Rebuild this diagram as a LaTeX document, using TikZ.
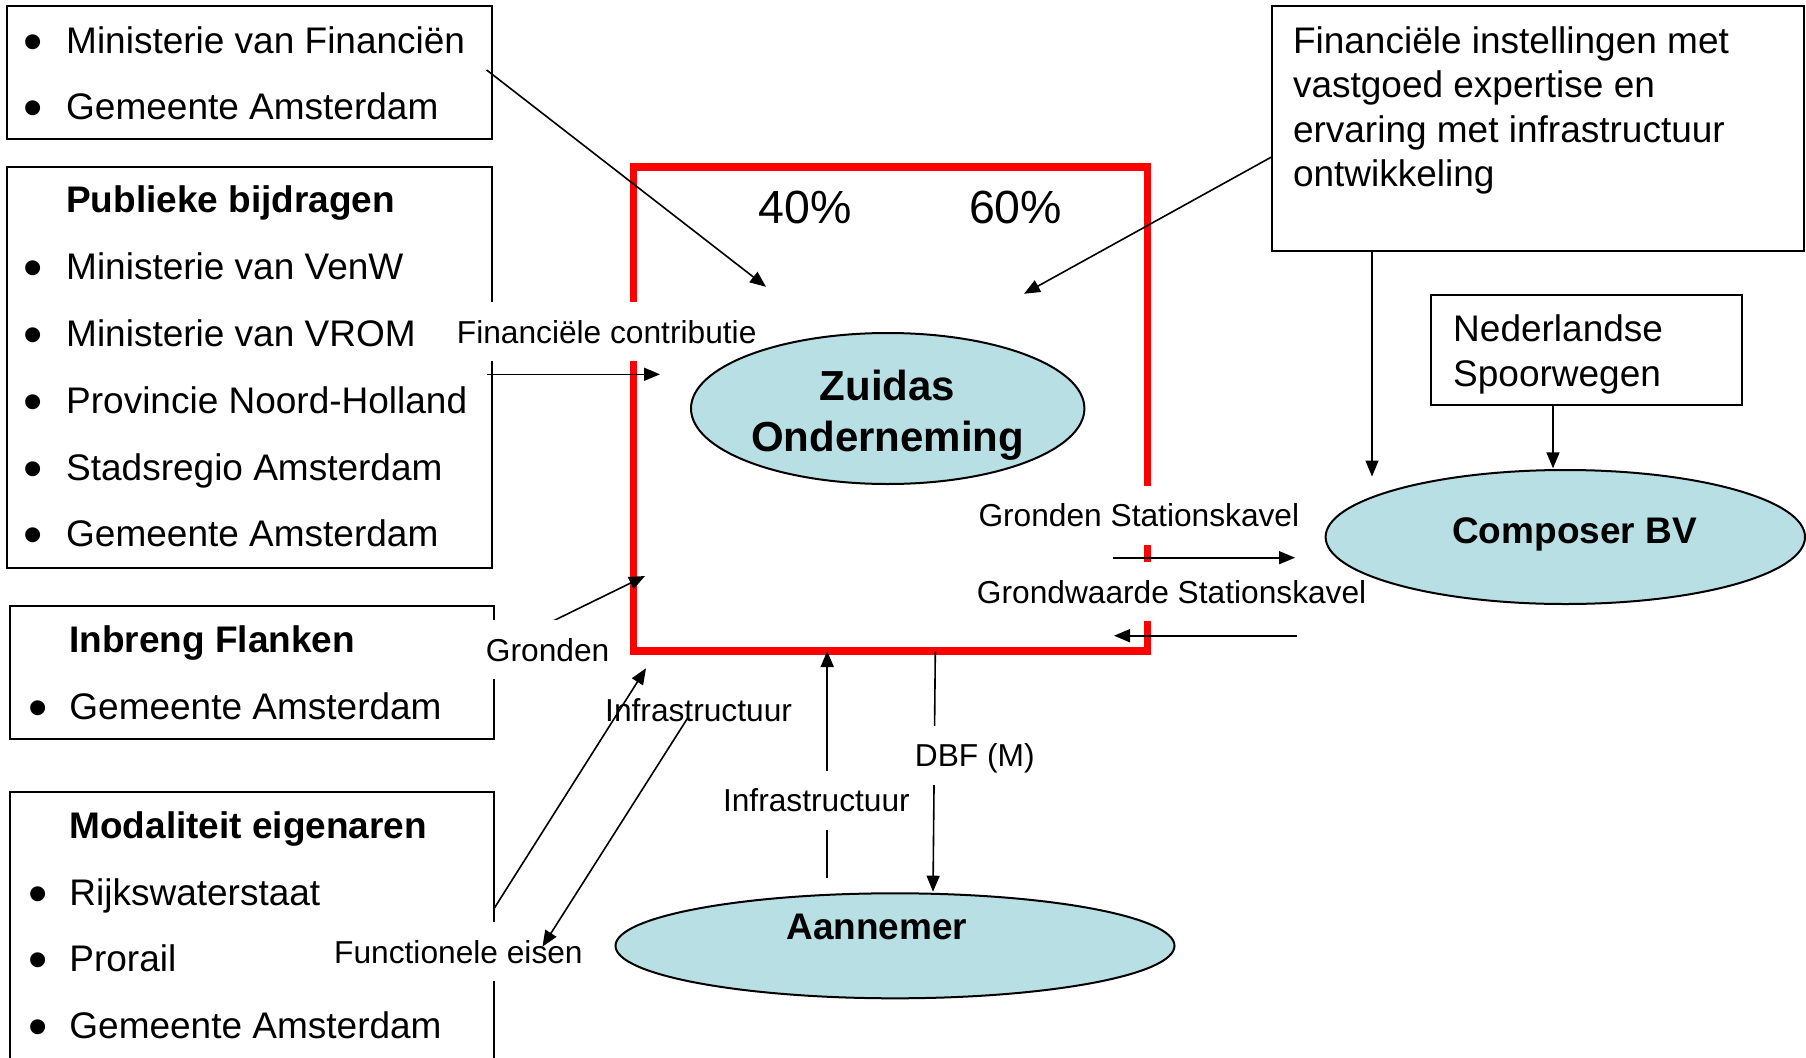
\documentclass[tikz,border=0pt]{standalone}
\usepackage{fontspec}
\setmainfont{Liberation Sans}
\usetikzlibrary{arrows.meta,shapes.geometric}
\definecolor{ellfill}{RGB}{184,223,227}
\begin{document}
\begin{tikzpicture}[x=1pt,y=-1pt,
  box/.style={draw=black,line width=2pt,rectangle,anchor=north west,inner sep=0pt,outer sep=0pt},
  frame/.style={draw=red,line width=7.5pt,rectangle,anchor=north west,inner sep=0pt,outer sep=0pt},
  ell/.style={draw=black,line width=2pt,ellipse,fill=ellfill,inner sep=0pt},
  txt/.style={font=\fontsize{37}{44}\selectfont,inner sep=0pt,anchor=base west},
  txtb/.style={font=\fontsize{37}{44}\selectfont\bfseries,inner sep=0pt,anchor=base west},
  bul/.style={font=\fontsize{55}{60}\selectfont,inner sep=0pt,anchor=base},
  ellt/.style={font=\fontsize{37}{44}\selectfont\bfseries,inner sep=0pt,anchor=base},
  ellz/.style={font=\fontsize{42}{50}\selectfont\bfseries,inner sep=0pt,anchor=base},
  pct/.style={font=\fontsize{46.5}{52}\selectfont,inner sep=0pt,anchor=base west},
  lbl/.style={font=\fontsize{31.7}{38}\selectfont,fill=white,inner xsep=2pt,inner ysep=0pt,text height=41pt,text depth=18pt,anchor=base west},
  arr/.style={draw=black,line width=1.6pt,-{Triangle[length=16pt,width=13pt]}},
  ln/.style={draw=black,line width=1.6pt}
]
\useasboundingbox (0,0) rectangle (1806,1057);
\clip (0,0) rectangle (1806,1057);
\fill[white] (0,0) rectangle (1806,1057);

% boxes
\node[box,minimum width=484.8pt,minimum height=133.3pt] (b1) at (6.7,5.7) {};
\node[box,minimum width=484.8pt,minimum height=401pt] (b2) at (6.7,166.5) {};
\node[box,minimum width=484.4pt,minimum height=133.3pt] (b3) at (9.8,605.7) {};
\node[box,minimum width=484.4pt,minimum height=300pt] (b4) at (9.8,791.7) {};
\node[box,minimum width=532.5pt,minimum height=244.5pt] (fin) at (1271.5,6) {};
\node[box,minimum width=310.7pt,minimum height=110.4pt] (ns) at (1431,294.6) {};
\node[frame,minimum width=514pt,minimum height=484.2pt] (fr) at (633.5,166.8) {};

% box texts
\node[bul] (b1d1) at (33.5,60.6) {•};
\node[txt] (b1t1) at (66,53.6) {Ministerie van Financiën};
\node[bul] (b1d2) at (33.5,126.8) {•};
\node[txt] (b1t2) at (66,119.8) {Gemeente Amsterdam};

\node[txtb] (b2h) at (66,212.4) {Publieke bijdragen};
\node[bul] (b2d1) at (33.5,286.4) {•};
\node[txt] (b2t1) at (66,279.4) {Ministerie van VenW};
\node[bul] (b2d2) at (33.5,353.3) {•};
\node[txt] (b2t2) at (66,346.3) {Ministerie van VROM};
\node[bul] (b2d3) at (33.5,420.3) {•};
\node[txt] (b2t3) at (66,413.3) {Provincie Noord-Holland};
\node[bul] (b2d4) at (33.5,487.3) {•};
\node[txt] (b2t4) at (66,480.3) {Stadsregio Amsterdam};
\node[bul] (b2d5) at (33.5,553.5) {•};
\node[txt] (b2t5) at (66,546.5) {Gemeente Amsterdam};

\node[txtb] (b3h) at (69.2,652.7) {Inbreng Flanken};
\node[bul] (b3d1) at (38,726.3) {•};
\node[txt] (b3t1) at (69.2,719.3) {Gemeente Amsterdam};

\node[txtb] (b4h) at (69.2,838.3) {Modaliteit eigenaren};
\node[bul] (b4d1) at (38,912) {•};
\node[txt] (b4t1) at (69.2,905) {Rijkswaterstaat};
\node[bul] (b4d2) at (38,978.7) {•};
\node[txt] (b4t2) at (69.2,971.7) {Prorail};
\node[bul] (b4d3) at (38,1045.3) {•};
\node[txt] (b4t3) at (69.2,1038.3) {Gemeente Amsterdam};

\node[txt] (fin1) at (1292.8,53.6) {Financiële instellingen met};
\node[txt] (fin2) at (1292.8,97.9) {vastgoed expertise en};
\node[txt] (fin3) at (1292.8,142.3) {ervaring met infrastructuur};
\node[txt] (fin4) at (1292.8,186) {ontwikkeling};

\node[txt] (ns1) at (1453,341.5) {Nederlandse};
\node[txt] (ns2) at (1453,386.2) {Spoorwegen};

\node[pct] (p40) at (758.5,223) {40\%};
\node[pct] (p60) at (968.8,223) {60\%};

% arrows covered by labels
\coordinate (grA) at (553.6,620.7);
\coordinate (grB) at (645,576);
\draw[arr] (grA) -- (grB);
\coordinate (infA) at (827.2,878.3);
\coordinate (infB) at (827.2,651);
\draw[arr] (infA) -- (infB);
\coordinate (dbfA) at (935.3,651);
\coordinate (dbfB) at (933,891.7);
\draw[arr] (dbfA) -- (dbfB);

% labels
\node[lbl] (lfc) at (454.7,343.3) {Financiële contributie};
\node[lbl] (lgr) at (483.7,661) {Gronden};
\node[lbl] (lgs) at (976.3,526.7) {Gronden Stationskavel};
\node[lbl] (lgw) at (974.7,603.3) {Grondwaarde Stationskavel};
\node[lbl] (lfe) at (332,963.3) {Functionele eisen};
\node[lbl] (linl) at (603,721) {Infrastructuur};
\node[lbl] (linb) at (720.8,811.7) {Infrastructuur};
\node[lbl] (ldbf) at (912.7,766.7) {DBF (M)};

% ellipses
\node[ell,minimum width=393.4pt,minimum height=151pt] (zo) at (887.7,408.5) {};
\node[ell,minimum width=479.4pt,minimum height=134pt] (cb) at (1565.3,537) {};
\node[ell,minimum width=559pt,minimum height=105pt] (an) at (895,945.8) {};
\node[ellz] (zo1) at (887.5,400.5) {Zuidas};
\node[ellz] (zo2) at (887.5,451) {Onderneming};
\node[ellt] (cb1) at (1574.5,543) {Composer BV};
\node[ellt] (an1) at (876.8,939) {Aannemer};

% other arrows
\coordinate (a1s) at (486.6,70);
\coordinate (a1e) at (766,286.8);
\draw[arr] (a1s) -- (a1e);
\coordinate (a2s) at (1271.5,157);
\coordinate (a2e) at (1024,293.8);
\draw[arr] (a2s) -- (a2e);
\coordinate (fcs) at (486.6,374.3);
\coordinate (fce) at (660,374.3);
\draw[arr] (fcs) -- (fce);
\coordinate (gss) at (1113.3,557.7);
\coordinate (gse) at (1295,557.7);
\draw[arr] (gss) -- (gse);
\coordinate (gws) at (1296.7,635.7);
\coordinate (gwe) at (1114,635.7);
\draw[arr] (gws) -- (gwe);
\coordinate (fcb) at (1372,476.5);
\draw[arr] (fin.south west -| fcb) -- (fcb);
\coordinate (nsb) at (1553,468.3);
\draw[arr] (ns.south west -| nsb) -- (nsb);
\coordinate (mis) at (494.2,908.3);
\coordinate (mie) at (646,668.3);
\draw[arr] (mis) -- (mie);
\coordinate (fes) at (687.5,718.3);
\coordinate (fee) at (542.4,946.7);
\draw[arr] (fes) -- (fee);
\end{tikzpicture}
\end{document}
